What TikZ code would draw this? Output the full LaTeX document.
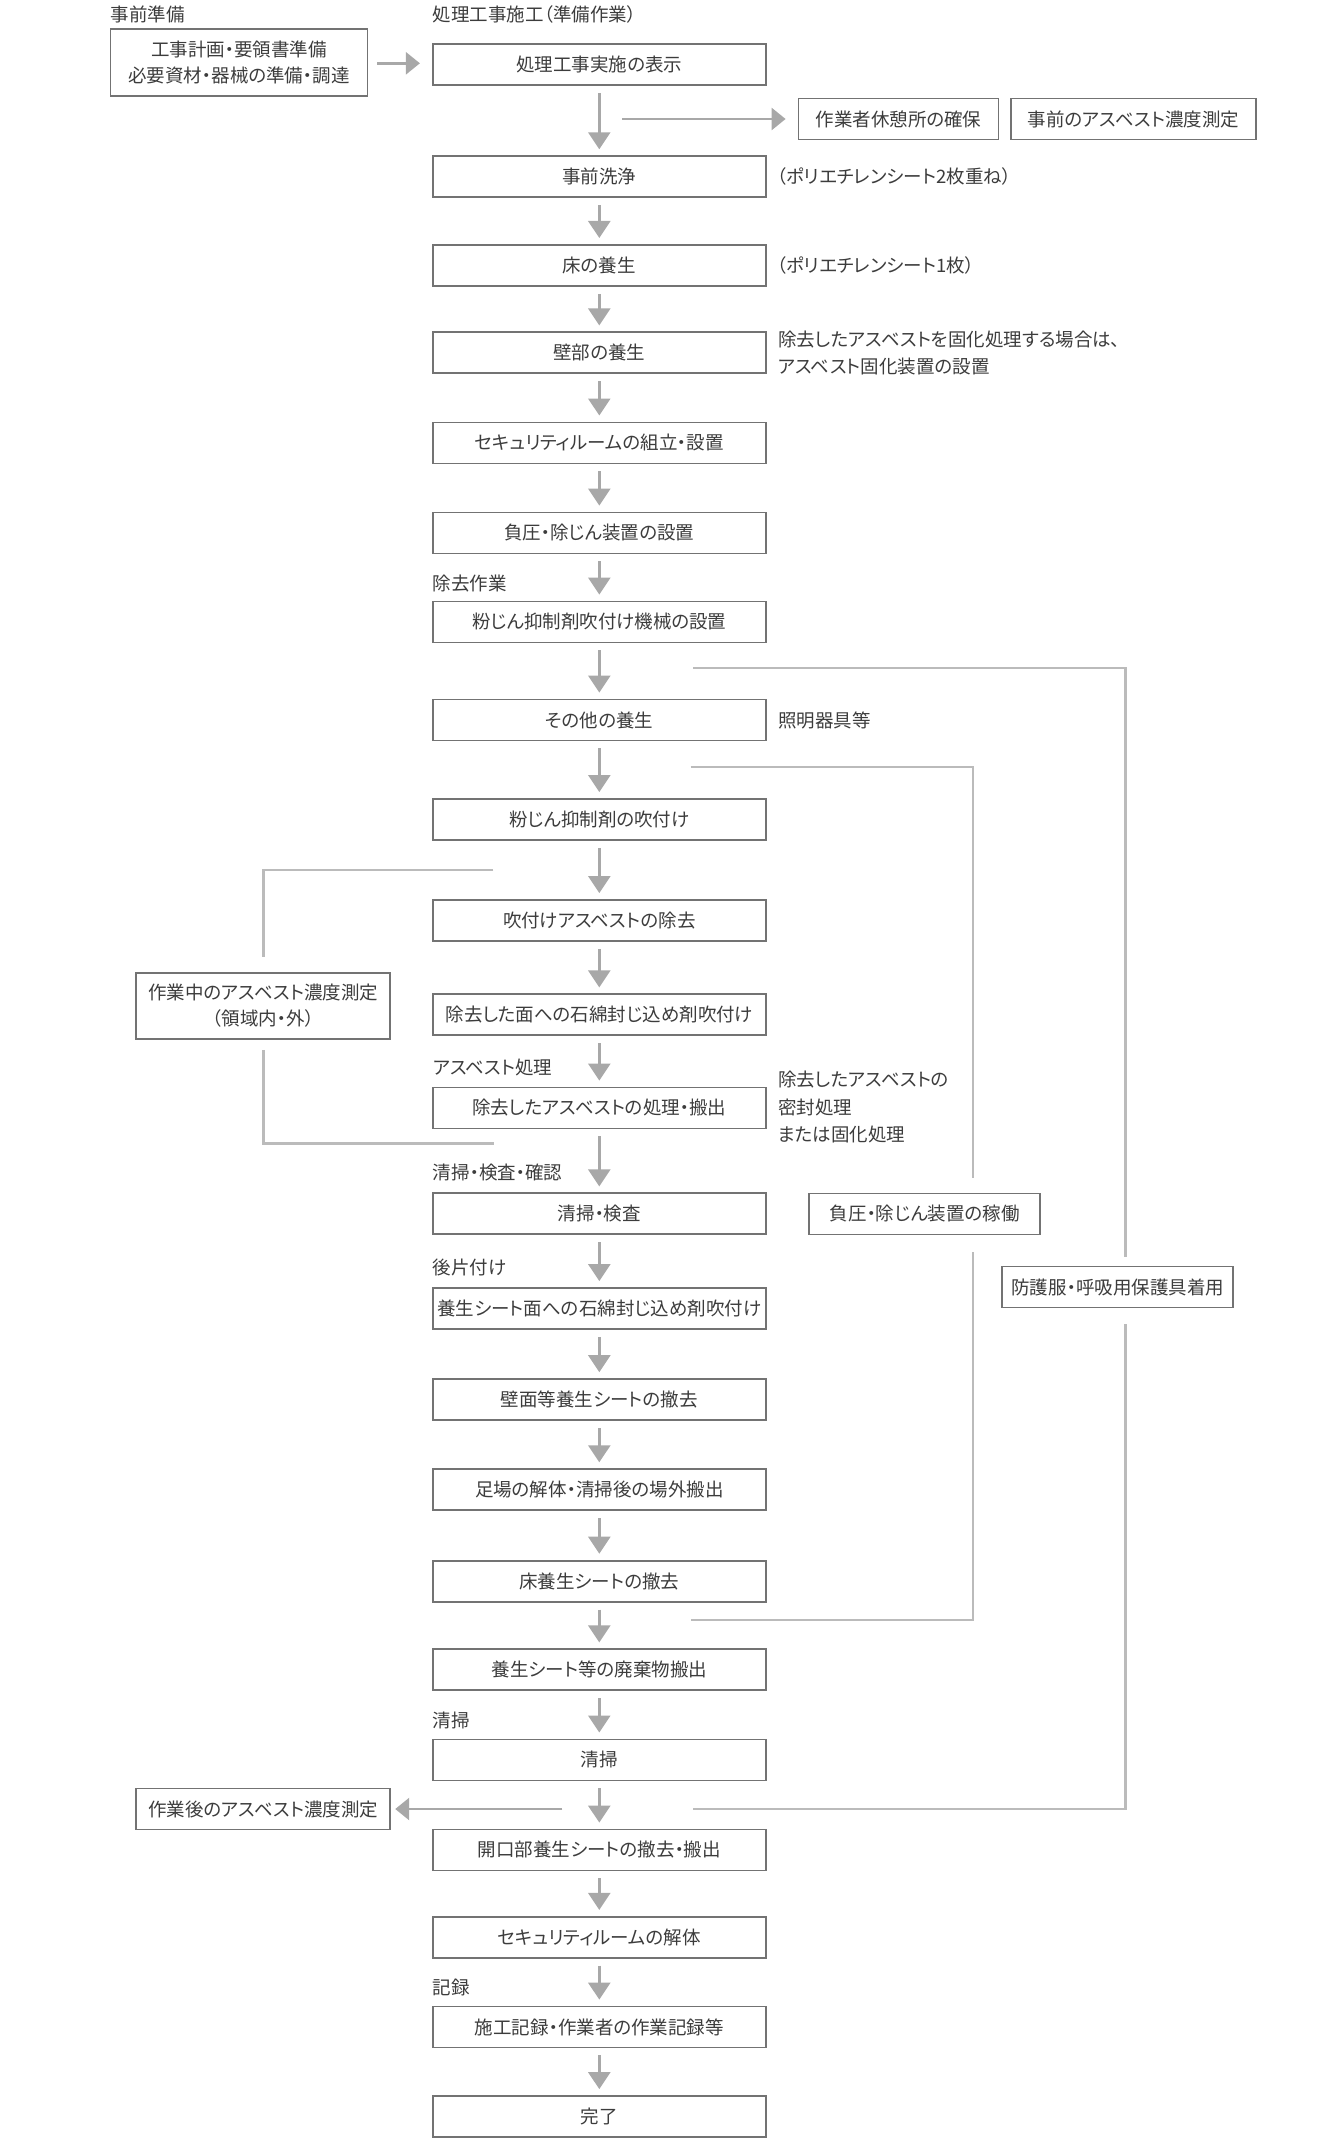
\documentclass[tikz,border=0pt]{standalone}
\usepackage{fontspec}
\setmainfont{Noto Sans CJK JP}[RawFeature={+palt}]
\usetikzlibrary{arrows.meta}
\definecolor{boxc}{HTML}{737373}
\definecolor{arrc}{HTML}{A8A8A8}
\definecolor{linec}{HTML}{BBBBBB}
\definecolor{txtc}{HTML}{3C3C3C}
\begin{document}
\begin{tikzpicture}[x=1pt,y=-1pt,
  font=\fontsize{18.5}{26}\selectfont, text=txtc,
  stepbox/.style={draw=boxc, line width=1.8pt, minimum width=333pt, minimum height=41pt, inner sep=0pt, align=center},
  sidebox/.style={draw=boxc, line width=1.8pt, minimum height=41pt, inner sep=0pt, align=center},
  note/.style={anchor=west, inner sep=0pt, align=left},
  flow/.style={draw=arrc, line width=2.5pt, -{Triangle[width=22pt,length=17pt]}, shorten <=7pt, shorten >=6pt},
  hflow/.style={draw=arrc, line width=2.5pt, -{Triangle[width=22pt,length=14pt]}},
  bracket/.style={draw=linec, line width=2.5pt}
]
\useasboundingbox (0,0) rectangle (1317,2140);

% headings
\node[note] (h1) at (110.5,14) {事前準備};
\node[note] (h2) at (432.6,14) {処理工事施工（準備作業）};

% preparation box
\node[sidebox, minimum width=257pt, minimum height=67pt] (prep) at (239,62.5) {工事計画・要領書準備\\必要資材・器械の準備・調達};

% main steps
\def\cx{599.3}
\node[stepbox] (b1) at (\cx,64.5) {処理工事実施の表示};
\node[stepbox] (b2) at (\cx,176.7) {事前洗浄};
\node[stepbox] (b3) at (\cx,265.4) {床の養生};
\node[stepbox] (b4) at (\cx,352.8) {壁部の養生};
\node[stepbox] (b5) at (\cx,442.9) {セキュリティルームの組立・設置};
\node[stepbox] (b6) at (\cx,533) {負圧・除じん装置の設置};
\node[stepbox] (b7) at (\cx,622) {粉じん抑制剤吹付け機械の設置};
\node[stepbox] (b8) at (\cx,720) {その他の養生};
\node[stepbox] (b9) at (\cx,819.5) {粉じん抑制剤の吹付け};
\node[stepbox] (b10) at (\cx,920.5) {吹付けアスベストの除去};
\node[stepbox] (b11) at (\cx,1014.8) {除去した面への石綿封じ込め剤吹付け};
\node[stepbox] (b12) at (\cx,1108) {除去したアスベストの処理・搬出};
\node[stepbox] (b13) at (\cx,1213.8) {清掃・検査};
\node[stepbox] (b14) at (\cx,1308.5) {養生シート面への石綿封じ込め剤吹付け};
\node[stepbox] (b15) at (\cx,1399.6) {壁面等養生シートの撤去};
\node[stepbox] (b16) at (\cx,1489.7) {足場の解体・清掃後の場外搬出};
\node[stepbox] (b17) at (\cx,1581.1) {床養生シートの撤去};
\node[stepbox] (b18) at (\cx,1669.8) {養生シート等の廃棄物搬出};
\node[stepbox] (b19) at (\cx,1759.9) {清掃};
\node[stepbox] (b20) at (\cx,1850) {開口部養生シートの撤去・搬出};
\node[stepbox] (b21) at (\cx,1937.3) {セキュリティルームの解体};
\node[stepbox] (b22) at (\cx,2027) {施工記録・作業者の作業記録等};
\node[stepbox] (b23) at (\cx,2116.5) {完了};

% phase labels
\node[note] (l1) at (432.6,584) {除去作業};
\node[note] (l2) at (432.6,1067.5) {アスベスト処理};
\node[note] (l3) at (432.6,1172) {清掃・検査・確認};
\node[note] (l4) at (432.6,1267) {後片付け};
\node[note] (l5) at (432.6,1720) {清掃};
\node[note] (l6) at (432.6,1987.5) {記録};

% notes
\node[note] (n1) at (777,176.7) {（ポリエチレンシート2枚重ね）};
\node[note] (n2) at (777,265.4) {（ポリエチレンシート1枚）};
\node[note] (n3) at (778,340) {除去したアスベストを固化処理する場合は、};
\node[note] (n3b) at (778,367) {アスベスト固化装置の設置};
\node[note] (n4) at (778,720) {照明器具等};
\node[note] (n5) at (778,1079.5) {除去したアスベストの};
\node[note] (n5b) at (778,1107) {密封処理};
\node[note] (n5c) at (778,1134) {または固化処理};

% side boxes
\node[sidebox, minimum width=200pt] (s1) at (898.5,119) {作業者休憩所の確保};
\node[sidebox, minimum width=245pt] (s2) at (1133.5,119) {事前のアスベスト濃度測定};
\node[sidebox, minimum width=254pt, minimum height=66pt] (m1) at (263.3,1006) {作業中のアスベスト濃度測定\\（領域内・外）};
\node[sidebox, minimum width=231pt] (r1) at (924.7,1214) {負圧・除じん装置の稼働};
\node[sidebox, minimum width=231pt] (r2) at (1117.7,1287) {防護服・呼吸用保護具着用};
\node[sidebox, minimum width=254pt] (m2) at (263.3,1809) {作業後のアスベスト濃度測定};

% main flow arrows
\foreach \a/\b in {b1/b2,b2/b3,b3/b4,b4/b5,b5/b6,b6/b7,b7/b8,b8/b9,b9/b10,b10/b11,b11/b12,b12/b13,b13/b14,b14/b15,b15/b16,b16/b17,b17/b18,b18/b19,b19/b20,b20/b21,b21/b22,b22/b23}
  \draw[flow] (\a.south) -- (\b.north);

% horizontal arrows
\coordinate (p1) at (377.3,63.3);
\draw[hflow] (p1) -- ([xshift=-12pt]b1.west |- p1);
\coordinate (q1) at (622,119);
\draw[hflow] (q1) -- ([xshift=-12pt]s1.west);
\coordinate (q2) at (562.4,1809);
\draw[hflow] (q2) -- ([xshift=4pt]m2.east);

% bracket: during-work measurement
\coordinate (c1a) at (493.3,870);
\coordinate (c1b) at (263.3,870);
\coordinate (c1c) at (263.3,1143.7);
\coordinate (c1d) at (494,1143.7);
\draw[bracket] (c1a) -- (c1b) -- ([yshift=15pt]m1.north -| c1b);
\draw[bracket] ([yshift=-10pt]m1.south -| c1c) -- (c1c) -- (c1d);

% bracket: negative pressure operation
\coordinate (c2a) at (690.6,767);
\coordinate (c2b) at (973,767);
\coordinate (c2c) at (973,1620);
\coordinate (c2d) at (690.6,1620);
\draw[bracket] (c2a) -- (c2b) -- ([yshift=15pt]r1.north -| c2b);
\draw[bracket] ([yshift=-17pt]r1.south -| c2c) -- (c2c) -- (c2d);

% bracket: protective equipment
\coordinate (c3a) at (693.3,668);
\coordinate (c3b) at (1125.7,668);
\coordinate (c3c) at (1125.7,1809);
\coordinate (c3d) at (693.3,1809);
\draw[bracket] (c3a) -- (c3b) -- ([yshift=9pt]r2.north -| c3b);
\draw[bracket] ([yshift=-16pt]r2.south -| c3c) -- (c3c) -- (c3d);
\end{tikzpicture}
\end{document}
